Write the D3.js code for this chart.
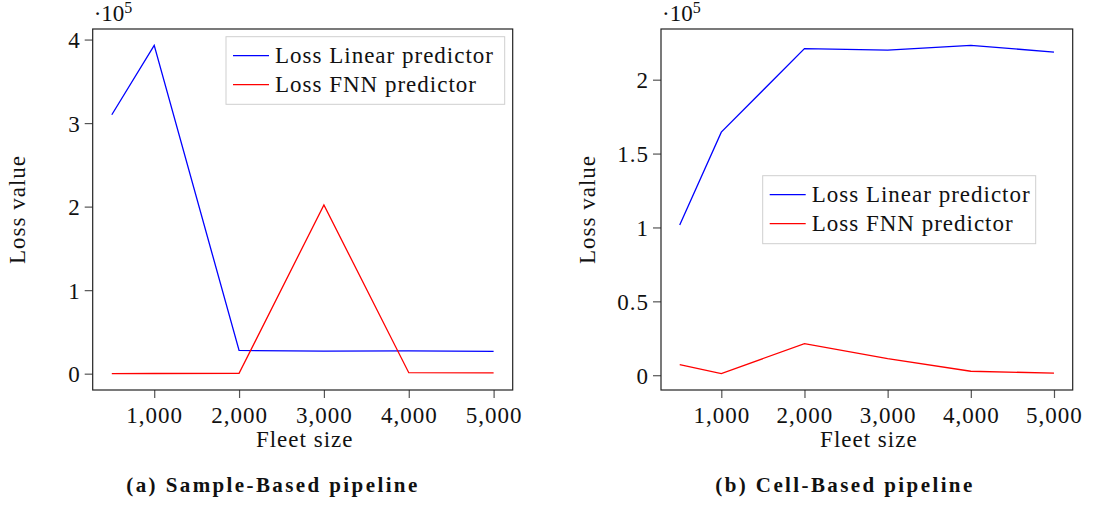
<!DOCTYPE html>
<html>
<head>
<meta charset="utf-8">
<script src="https://cdn.jsdelivr.net/npm/d3@7"></script>
<style>
  body { margin: 0; background: #fff; }
  svg { display: block; }
  text { font-family: "Liberation Serif", "DejaVu Serif", serif; fill: #111; }
</style>
</head>
<body>
<svg id="chart" width="1112" height="505"></svg>
<script>
// ---------- data ----------
const fleetSizes = [500, 1000, 2000, 3000, 4000, 5000];
const xTickValues = [1000, 2000, 3000, 4000, 5000];

// values in units of 10^5
const sampleLinear = [3.10, 3.93, 0.278, 0.271, 0.274, 0.266];
const sampleFNN    = [0.001, 0.002, 0.004, 2.02, 0.012, 0.010];
const sampleYTicks = [0, 1, 2, 3, 4];

const cellLinear = [1.016, 1.645, 2.21, 2.20, 2.232, 2.187];
const cellFNN    = [0.072, 0.011, 0.214, 0.113, 0.027, 0.014];
const cellYTicks = [0, 0.5, 1, 1.5, 2];

const seriesNames = ["Loss Linear predictor", "Loss FNN predictor"];
const seriesColors = ["#0000ff", "#ff0000"];
const captions = ["(a) Sample-Based pipeline", "(b) Cell-Based pipeline"];
const xLabel = "Fleet size";
const yLabel = "Loss value";

const svg = d3.select("#chart");
const fontSize = 23;
const ls = "1px";

function panel(opts) {
  const { left, right, top, bottom, series, yTicks, caption, legend, ylabX } = opts;
  const g = svg.append("g");
  const all = series.flat();
  const xPad = (5000 - 500) * 0.05;
  const x = d3.scaleLinear().domain([500 - xPad, 5000 + xPad]).range([left, right]);
  const ymin = d3.min(all), ymax = d3.max(all);
  const yPad = (ymax - ymin) * 0.05;
  const y = d3.scaleLinear().domain([ymin - yPad, ymax + yPad]).range([bottom, top]);

  // axes (ticks outside, gray)
  const xAxis = g.append("g").attr("transform", `translate(0,${bottom})`)
    .call(d3.axisBottom(x).tickValues(xTickValues).tickSize(8).tickPadding(3)
      .tickFormat(d3.format(",")));
  const yAxis = g.append("g").attr("transform", `translate(${left},0)`)
    .call(d3.axisLeft(y).tickValues(yTicks).tickSize(8).tickPadding(4)
      .tickFormat(d => d3.format("")(d)));
  [xAxis, yAxis].forEach(a => {
    a.attr("font-family", null);
    a.select(".domain").remove();
    a.selectAll(".tick line").attr("stroke", "#555").attr("stroke-width", 1.2);
    a.selectAll(".tick text").attr("font-size", fontSize)
      .attr("letter-spacing", ls).attr("fill", "#111");
  });
  xAxis.selectAll(".tick text").attr("dy", "0.95em");
  yAxis.selectAll(".tick text").attr("dy", "0.36em");

  // lines
  const line = d3.line().x((d, i) => x(fleetSizes[i])).y(d => y(d));
  series.forEach((s, k) => {
    g.append("path").datum(s).attr("d", line)
      .attr("fill", "none").attr("stroke", seriesColors[k]).attr("stroke-width", 1.3);
  });

  // frame
  g.append("rect").attr("x", left).attr("y", top)
    .attr("width", right - left).attr("height", bottom - top)
    .attr("fill", "none").attr("stroke", "#222").attr("stroke-width", 1.2);

  // exponent label
  const ex = g.append("text").attr("x", left + 1).attr("y", top - 8).attr("font-size", fontSize);
  ex.append("tspan").text("·10");
  ex.append("tspan").attr("dy", -8).attr("font-size", 16).text("5");

  // legend
  const lg = g.append("g");
  lg.append("rect").attr("x", legend.x).attr("y", legend.y)
    .attr("width", legend.w).attr("height", legend.h)
    .attr("fill", "#fff").attr("stroke", "#cfcfcf").attr("stroke-width", 1);
  seriesNames.forEach((n, k) => {
    const ly = legend.y + 19 + k * 29;
    lg.append("line").attr("x1", legend.x + 7).attr("x2", legend.x + 43)
      .attr("y1", ly).attr("y2", ly)
      .attr("stroke", seriesColors[k]).attr("stroke-width", 1.3);
    lg.append("text").attr("x", legend.x + 49).attr("y", ly + 7)
      .attr("font-size", fontSize).attr("letter-spacing", ls).text(n);
  });

  // axis labels
  g.append("text").attr("x", (left + right) / 2 + 2).attr("y", 447)
    .attr("text-anchor", "middle").attr("font-size", fontSize)
    .attr("letter-spacing", ls).text(xLabel);
  g.append("text").attr("transform", `translate(${ylabX},${(top + bottom) / 2}) rotate(-90)`)
    .attr("text-anchor", "middle").attr("font-size", fontSize)
    .attr("letter-spacing", ls).text(yLabel);

  // caption
  g.append("text").attr("x", caption.x).attr("y", 492)
    .attr("text-anchor", "middle").attr("font-size", 21).attr("font-weight", "bold")
    .attr("letter-spacing", "2.4px")
    .text(caption.text);
}

panel({
  left: 92.7, right: 512.7, top: 29, bottom: 390,
  series: [sampleLinear, sampleFNN], yTicks: sampleYTicks,
  caption: { x: 273, text: captions[0] },
  legend: { x: 226, y: 36.7, w: 278.7, h: 67.6 },
  ylabX: 25
});
panel({
  left: 661, right: 1072.7, top: 29, bottom: 390,
  series: [cellLinear, cellFNN], yTicks: cellYTicks,
  caption: { x: 845, text: captions[1] },
  legend: { x: 762.7, y: 175.7, w: 273, h: 68 },
  ylabX: 595
});
</script>
</body>
</html>
